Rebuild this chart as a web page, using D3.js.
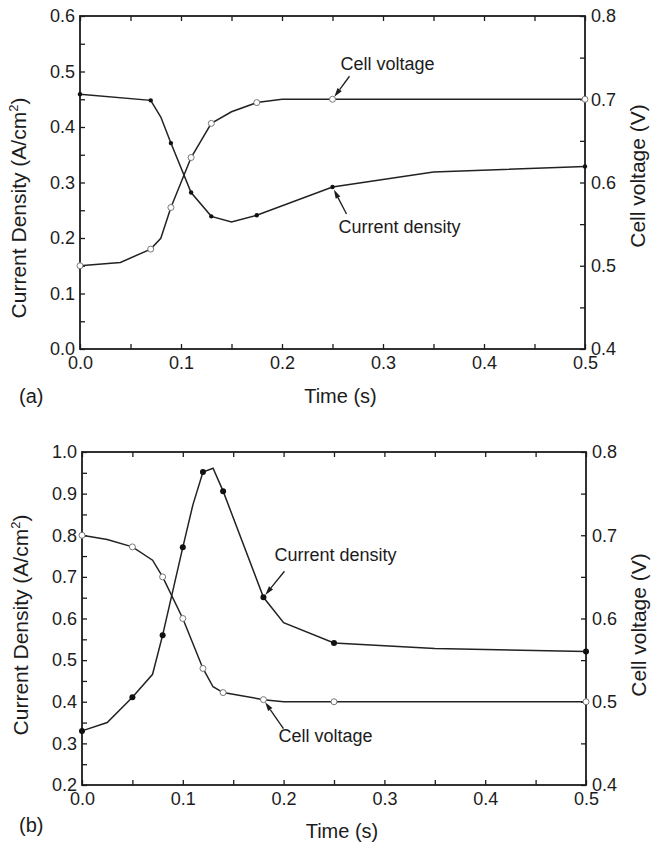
<!DOCTYPE html>
<html>
<head>
<meta charset="utf-8">
<script src="https://cdn.jsdelivr.net/npm/d3@7"></script>
<style>
  body { margin: 0; background: #fff; }
  svg { display: block; }
  text { font-family: "Liberation Sans", Arial, Helvetica, sans-serif; fill: #1c1c1c; }
</style>
</head>
<body>
<svg id="chart" width="663" height="846"></svg>
<script>
// (a) current density, A/cm2 (left axis)
const timeA_J = [0, 0.07, 0.08, 0.09, 0.11, 0.13, 0.15, 0.175, 0.25, 0.35, 0.5];
const densA   = [0.459, 0.448, 0.418, 0.371, 0.282, 0.239, 0.229, 0.241, 0.292, 0.319, 0.329];
const markA_J = [1, 1, 0, 1, 1, 1, 0, 1, 1, 0, 1];
// (a) cell voltage, V (right axis)
const timeA_V = [0, 0.04, 0.07, 0.08, 0.09, 0.11, 0.13, 0.15, 0.175, 0.2, 0.25, 0.5];
const voltA   = [0.5, 0.504, 0.52, 0.533, 0.57, 0.63, 0.671, 0.685, 0.696, 0.7, 0.7, 0.7];
const markA_V = [1, 0, 1, 0, 1, 1, 1, 0, 1, 0, 1, 1];

// (b) current density
const timeB_J = [0, 0.025, 0.05, 0.07, 0.08, 0.1, 0.11, 0.12, 0.13, 0.14, 0.18, 0.2, 0.25, 0.35, 0.5];
const densB   = [0.33, 0.35, 0.411, 0.466, 0.56, 0.771, 0.873, 0.952, 0.961, 0.906, 0.651, 0.59, 0.541, 0.528, 0.521];
const markB_J = [1, 0, 1, 0, 1, 1, 0, 1, 0, 1, 1, 0, 1, 0, 1];
// (b) cell voltage
const timeB_V = [0, 0.025, 0.05, 0.07, 0.08, 0.1, 0.12, 0.13, 0.14, 0.18, 0.2, 0.25, 0.5];
const voltB   = [0.70, 0.695, 0.686, 0.670, 0.650, 0.600, 0.540, 0.518, 0.511, 0.5025, 0.5, 0.5, 0.5];
const markB_V = [1, 0, 1, 0, 1, 1, 1, 0, 1, 1, 0, 1, 1];

const timeTicks = d3.range(0, 0.5001, 0.05);
const voltTicks = d3.range(0.4, 0.8001, 0.05);

const svg = d3.select("#chart");
const ink = "#1c1c1c";

// label only every 0.1
const fmt = v => (Math.round(v * 100) % 10 === 0) ? d3.format(".1f")(v) : "";

function arrow(g, x1, y1, x2, y2) {
  const dx = x2 - x1, dy = y2 - y1, len = Math.hypot(dx, dy);
  const ux = dx / len, uy = dy / len;
  const ex = x2 - ux * 3, ey = y2 - uy * 3;   // stop at marker edge
  const bx = ex - ux * 9, by = ey - uy * 9;
  g.append("line").attr("x1", x1).attr("y1", y1).attr("x2", bx).attr("y2", by)
    .attr("stroke", ink).attr("stroke-width", 1.3);
  g.append("path")
    .attr("d", `M${ex},${ey}L${bx - uy * 2.6},${by + ux * 2.6}L${bx + uy * 2.6},${by - ux * 2.6}Z`)
    .attr("fill", ink);
}

function drawPanel(p) {
  const x  = d3.scaleLinear().domain([0, 0.5]).range([p.left, p.right]);
  const yL = d3.scaleLinear().domain(p.jDomain).range([p.bottom, p.top]);
  const yR = d3.scaleLinear().domain([0.4, 0.8]).range([p.bottom, p.top]);
  const g = svg.append("g");
  const tick = 5;

  const axes = [
    g.append("g").attr("transform", `translate(0,${p.bottom})`)
      .call(d3.axisBottom(x).tickValues(timeTicks).tickSize(-tick).tickPadding(7).tickFormat(fmt)),
    g.append("g").attr("transform", `translate(0,${p.top})`)
      .call(d3.axisTop(x).tickValues(timeTicks).tickSize(-tick).tickFormat("")),
    g.append("g").attr("transform", `translate(${p.left},0)`)
      .call(d3.axisLeft(yL).tickValues(p.jTicks).tickSize(-tick).tickPadding(5).tickFormat(fmt)),
    g.append("g").attr("transform", `translate(${p.right},0)`)
      .call(d3.axisRight(yR).tickValues(voltTicks).tickSize(-tick).tickPadding(6).tickFormat(fmt))
  ];
  axes.forEach(a => {
    a.select(".domain").remove();
    a.selectAll(".tick line").attr("stroke", ink).attr("stroke-width", 1.3);
    a.selectAll(".tick text").attr("font-size", 18).style("font-family", null).attr("fill", ink);
  });

  g.append("rect")
    .attr("x", p.left).attr("y", p.top)
    .attr("width", p.right - p.left).attr("height", p.bottom - p.top)
    .attr("fill", "none").attr("stroke", ink).attr("stroke-width", 1.8);

  const jPts = p.tJ.map((t, i) => [t, p.j[i], p.mJ[i]]);
  const vPts = p.tV.map((t, i) => [t, p.v[i], p.mV[i]]);

  g.append("path").datum(jPts)
    .attr("d", d3.line().x(d => x(d[0])).y(d => yL(d[1])))
    .attr("fill", "none").attr("stroke", "#222").attr("stroke-width", 1.5);
  g.append("path").datum(vPts)
    .attr("d", d3.line().x(d => x(d[0])).y(d => yR(d[1])))
    .attr("fill", "none").attr("stroke", "#222").attr("stroke-width", 1.5);

  g.selectAll(".dotJ").data(jPts.filter(d => d[2])).enter().append("circle")
    .attr("cx", d => x(d[0])).attr("cy", d => yL(d[1])).attr("r", p.dotR)
    .attr("fill", "#111");
  g.selectAll(".dotV").data(vPts.filter(d => d[2])).enter().append("circle")
    .attr("cx", d => x(d[0])).attr("cy", d => yR(d[1])).attr("r", 3)
    .attr("fill", "#fff").attr("stroke", "#777").attr("stroke-width", 1);

  // annotations
  const vIdx = p.tV.indexOf(p.vNote.t), jIdx = p.tJ.indexOf(p.jNote.t);
  const vx = x(p.tV[vIdx]), vy = yR(p.v[vIdx]);
  const jx = x(p.tJ[jIdx]), jy = yL(p.j[jIdx]);
  arrow(g, vx + p.vNote.ax, vy + p.vNote.ay, vx, vy);
  arrow(g, jx + p.jNote.ax, jy + p.jNote.ay, jx, jy);
  g.append("text").attr("x", vx + p.vNote.tx).attr("y", vy + p.vNote.ty)
    .attr("font-size", 18).text("Cell voltage");
  g.append("text").attr("x", jx + p.jNote.tx).attr("y", jy + p.jNote.ty)
    .attr("font-size", 18).text("Current density");

  // axis titles
  const tl = g.append("text").attr("font-size", 21).attr("text-anchor", "middle")
    .attr("transform", `translate(${p.left - 54},${p.titleY}) rotate(-90)`);
  tl.append("tspan").text("Current Density (A/cm");
  tl.append("tspan").attr("font-size", 13).attr("dy", -8).text("2");
  tl.append("tspan").attr("dy", 8).text(")");

  g.append("text").attr("font-size", 21).attr("text-anchor", "middle")
    .attr("transform", `translate(${p.right + 60},${p.titleRY}) rotate(-90)`)
    .text("Cell voltage (V)");

  g.append("text").attr("x", (p.left + p.right) / 2 + 8).attr("y", p.bottom + p.timeDy)
    .attr("font-size", 20).attr("text-anchor", "middle").text("Time (s)");
  g.append("text").attr("x", 19).attr("y", p.bottom + p.tagDy)
    .attr("font-size", 20).text(p.tag);
}

drawPanel({
  left: 80, right: 585, top: 16, bottom: 349,
  jDomain: [0, 0.6], jTicks: d3.range(0, 0.6001, 0.05),
  tJ: timeA_J, j: densA, mJ: markA_J, tV: timeA_V, v: voltA, mV: markA_V,
  dotR: 2.2,
  vNote: { t: 0.25, ax: 17, ay: -23, tx: 8, ty: -29 },
  jNote: { t: 0.25, ax: 14, ay: 27, tx: 6, ty: 46 },
  titleY: 208, titleRY: 176, timeDy: 54, tagDy: 54, tag: "(a)"
});

drawPanel({
  left: 82, right: 586, top: 452, bottom: 785,
  jDomain: [0.2, 1.0], jTicks: d3.range(0.2, 1.0001, 0.05),
  tJ: timeB_J, j: densB, mJ: markB_J, tV: timeB_V, v: voltB, mV: markB_V,
  dotR: 3,
  vNote: { t: 0.18, ax: 20, ay: 29, tx: 15, ty: 42 },
  jNote: { t: 0.18, ax: 21, ay: -26, tx: 11, ty: -36 },
  titleY: 625, titleRY: 625, timeDy: 53, tagDy: 47, tag: "(b)"
});
</script>
</body>
</html>
